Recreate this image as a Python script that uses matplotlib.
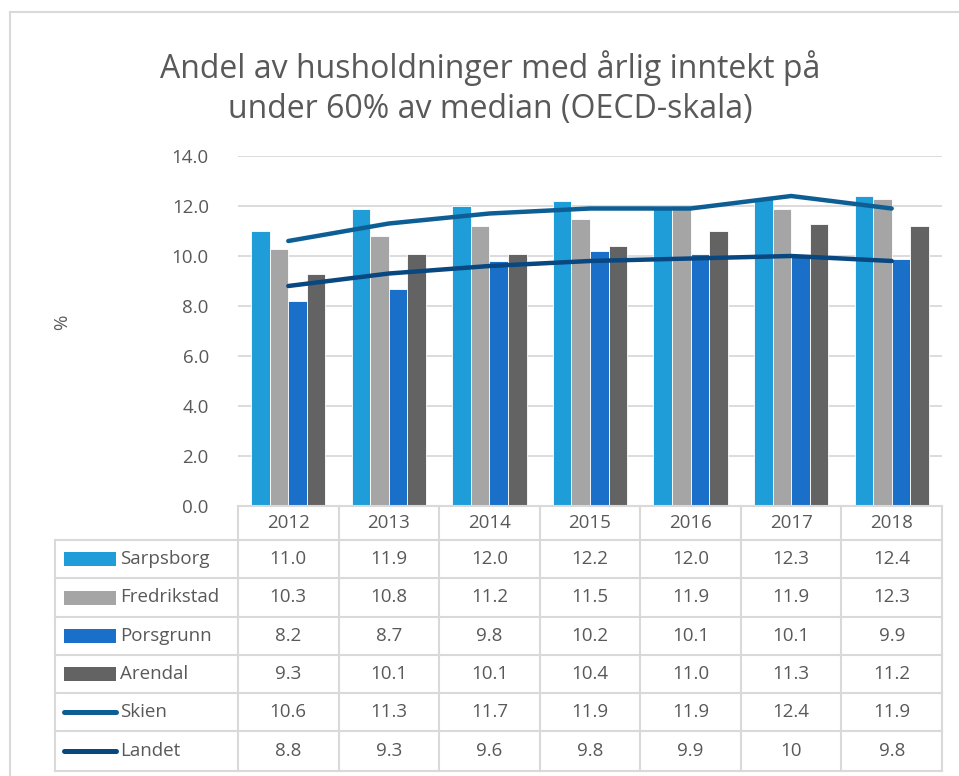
import matplotlib
matplotlib.use("Agg")
import matplotlib.pyplot as plt
from matplotlib.patches import Rectangle
from matplotlib.lines import Line2D
import numpy as np

plt.rcParams['font.family'] = ['Open Sans', 'DejaVu Sans']

years = ["2012", "2013", "2014", "2015", "2016", "2017", "2018"]
sarpsborg = [11.0, 11.9, 12.0, 12.2, 12.0, 12.3, 12.4]
fredrikstad = [10.3, 10.8, 11.2, 11.5, 11.9, 11.9, 12.3]
porsgrunn = [8.2, 8.7, 9.8, 10.2, 10.1, 10.1, 9.9]
arendal = [9.3, 10.1, 10.1, 10.4, 11.0, 11.3, 11.2]
skien = [10.6, 11.3, 11.7, 11.9, 11.9, 12.4, 11.9]
landet = [8.8, 9.3, 9.6, 9.8, 9.9, 10, 9.8]

bar_series = [("Sarpsborg", sarpsborg, "#1f9dd8"),
              ("Fredrikstad", fredrikstad, "#a5a5a5"),
              ("Porsgrunn", porsgrunn, "#1a70c8"),
              ("Arendal", arendal, "#636363")]
line_series = [("Skien", skien, "#0c5e95"),
               ("Landet", landet, "#084780")]
table_text = [["11.0", "11.9", "12.0", "12.2", "12.0", "12.3", "12.4"],
              ["10.3", "10.8", "11.2", "11.5", "11.9", "11.9", "12.3"],
              ["8.2", "8.7", "9.8", "10.2", "10.1", "10.1", "9.9"],
              ["9.3", "10.1", "10.1", "10.4", "11.0", "11.3", "11.2"],
              ["10.6", "11.3", "11.7", "11.9", "11.9", "12.4", "11.9"],
              ["8.8", "9.3", "9.6", "9.8", "9.9", "10", "9.8"]]

W, H = 959, 776
fig = plt.figure(figsize=(W / 100, H / 100), dpi=100)

def fx(x):
    return x / W

def fy(y):
    return 1 - y / H

TXT = "#595959"
GRID = "#d9d9d9"
FS = 13.5

# outer frame (top and left edges visible)
fig.add_artist(Line2D([fx(10), fx(959)], [fy(12), fy(12)], transform=fig.transFigure,
                      color=GRID, lw=1.5))
fig.add_artist(Line2D([fx(10), fx(10)], [fy(12), fy(776)], transform=fig.transFigure,
                      color=GRID, lw=1.5))

L, R, T, B = 238, 942, 156, 506
ax = fig.add_axes([fx(L), fy(B), fx(R) - fx(L), fy(T) - fy(B)])
n = len(years)
x = np.arange(n)
bw = 0.185
offsets = (np.arange(4) - 1.5) * bw
for (name, vals, col), off in zip(bar_series, offsets):
    ax.bar(x + off, vals, bw, color=col, edgecolor="white", linewidth=0.6, zorder=2)
for name, vals, col in line_series:
    ax.plot(x, vals, color=col, lw=3.2, solid_capstyle="round", zorder=3)

ax.set_xlim(-0.5, n - 0.5)
ax.set_ylim(0, 14)
ax.set_yticks(np.arange(0, 15, 2))
ax.set_yticklabels([f"{v:.1f}" for v in np.arange(0, 15, 2)], fontsize=FS, color=TXT)
ax.set_xticks([])
ax.grid(axis="y", color=GRID, lw=1.3, zorder=0)
ax.set_axisbelow(True)
for s in ax.spines.values():
    s.set_visible(False)
ax.tick_params(axis="y", length=0, pad=21)
fig.text(fx(62), fy(322), "%", rotation=90, ha="center", va="center", fontsize=FS, color=TXT)

fig.text(fx(490), fy(88), "Andel av husholdninger med årlig inntekt på\nunder 60% av median (OECD-skala)",
         ha="center", va="center", fontsize=23, color=TXT, linespacing=1.25)

# data table
colw = (R - L) / n
row_tops = [506, 540, 578, 617, 655, 693, 731, 771]
lab_left = 55

def hline(x0, x1, y):
    fig.add_artist(Line2D([fx(x0), fx(x1)], [fy(y), fy(y)], transform=fig.transFigure,
                          color=GRID, lw=1.5))

def vline(xv, y0, y1):
    fig.add_artist(Line2D([fx(xv), fx(xv)], [fy(y0), fy(y1)], transform=fig.transFigure,
                          color=GRID, lw=1.5))

hline(L, R, row_tops[0])
for y in row_tops[1:]:
    hline(lab_left, R, y)
vline(lab_left, row_tops[1], row_tops[-1])
for i in range(n + 1):
    vline(L + i * colw, row_tops[0], row_tops[-1])

for i, yr in enumerate(years):
    fig.text(fx(L + (i + 0.5) * colw), fy((row_tops[0] + row_tops[1]) / 2), yr,
             ha="center", va="center", fontsize=FS, color=TXT)

names = [s[0] for s in bar_series] + [s[0] for s in line_series]
cols = [s[2] for s in bar_series] + [s[2] for s in line_series]
for r in range(6):
    yc = (row_tops[r + 1] + row_tops[r + 2]) / 2
    if r < 4:
        fig.add_artist(Rectangle((fx(64), fy(yc + 7)), fx(116) - fx(64), fy(yc - 7) - fy(yc + 7),
                                 transform=fig.transFigure, color=cols[r], lw=0))
    else:
        fig.add_artist(Line2D([fx(64), fx(116)], [fy(yc), fy(yc)], transform=fig.transFigure,
                              color=cols[r], lw=3.6, solid_capstyle="round"))
    fig.text(fx(120), fy(yc), names[r], ha="left", va="center", fontsize=FS, color=TXT)
    for i in range(n):
        fig.text(fx(L + (i + 0.5) * colw), fy(yc), table_text[r][i],
                 ha="center", va="center", fontsize=FS, color=TXT)

fig.savefig("out.png", dpi=100)
